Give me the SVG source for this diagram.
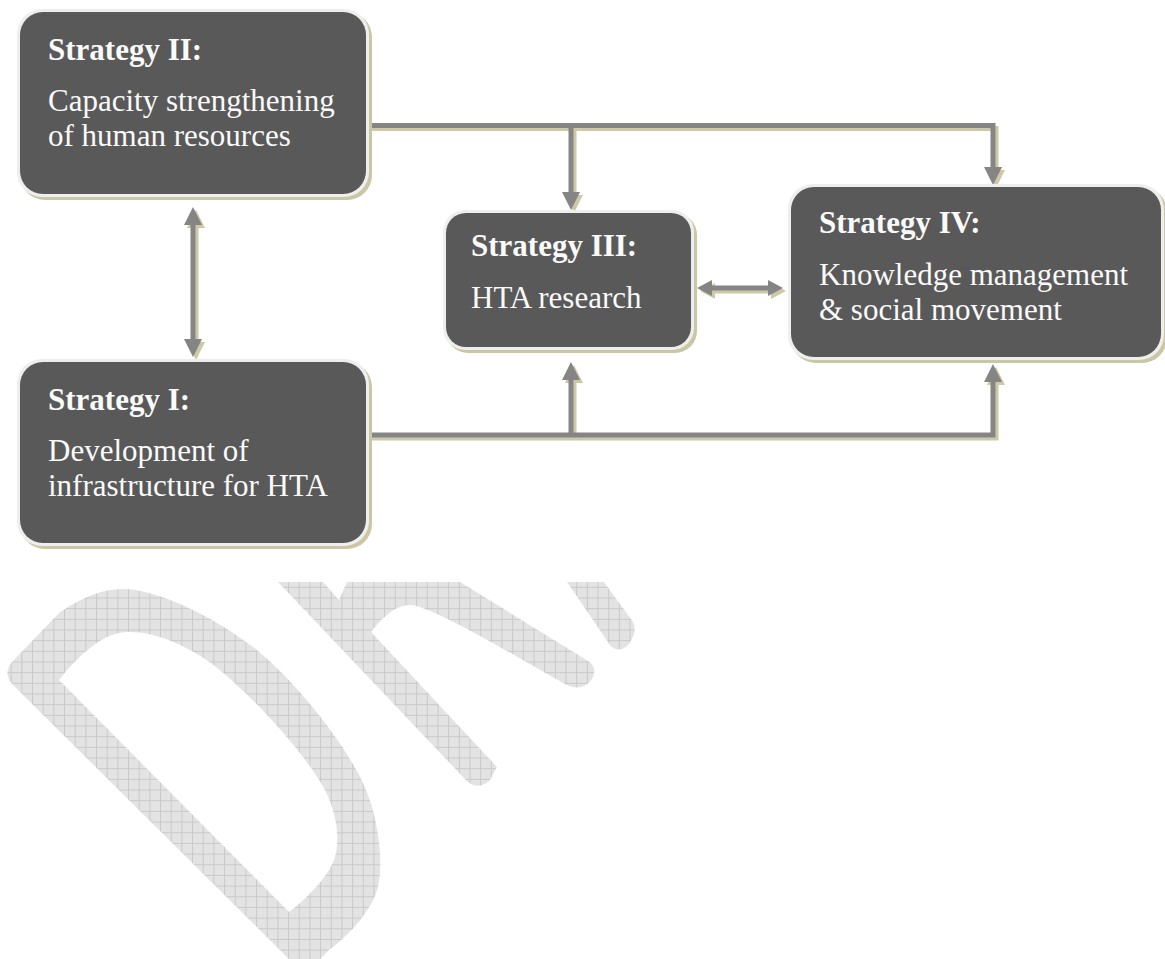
<svg xmlns="http://www.w3.org/2000/svg" xmlns:xlink="http://www.w3.org/1999/xlink" width="1165" height="959" viewBox="0 0 1165 959">
<style>
.shadow{fill:#cbc6a3}
.edge{fill:#eeeeee}
.box{fill:#595959}
.t{font-family:"Liberation Serif","Times New Roman",serif;font-size:31px;fill:#fafafa}
.b{font-weight:bold}
.conn{fill:#858585;stroke:#858585}
.connsh{fill:#cdc8a6;stroke:#cdc8a6}
.wm{fill:url(#grid)}
</style>
<defs>
<pattern id="grid" patternUnits="userSpaceOnUse" width="10.67" height="10.67">
<rect width="10.67" height="10.67" fill="#e3e3e3"/>
<path d="M0 0.5H10.67M0.5 0V10.67" stroke="#c9c9c9" stroke-width="1" fill="none"/>
</pattern>
<g id="cshapes">
<path d="M366 125.5H993V168M571 125.5V193M366 435H993V381M571 435V379M193 225V339M711 288H769" fill="none" stroke-width="5"/>
<polygon points="984,167 1002,167 993,185" stroke="none"/>
<polygon points="562,192 580,192 571,210" stroke="none"/>
<polygon points="984,382 1002,382 993,364" stroke="none"/>
<polygon points="562,380 580,380 571,362" stroke="none"/>
<polygon points="184,225 202,225 193,207" stroke="none"/>
<polygon points="184,339 202,339 193,357" stroke="none"/>
<polygon points="712,280 712,296 697,288" stroke="none"/>
<polygon points="768,280 768,296 783,288" stroke="none"/>
</g>
</defs>
<rect width="1165" height="959" fill="#ffffff"/>
<g id="watermark">
<path class="wm" fill-rule="evenodd" d="M14 686Q2 674 12 662L59 613C85 595 110 586 135 590C170 596 215 618 253 647C290 676 340 735 363 783C378 815 384 860 378 887C372 910 350 935 329 950L305 975Z M59 680C75 660 100 633 127 632C155 631 185 645 211 663C240 685 295 740 321 783C335 806 341 835 335 857C329 877 305 900 289 912Z"/>
<path class="wm" d="M278 582L463 777Q476 793 490 780L497 767L371 632C385 614 398 604 412 605C440 610 525 662 565 684Q582 693 592 679Q598 667 588 661L460 582L347 582L339 600L323 582Z"/>
<path class="wm" d="M567 582L610 645Q618 654 628 645Q638 632 633 622L604 582Z"/>
</g>
<g id="connectors">
<use xlink:href="#cshapes" href="#cshapes" class="connsh" transform="translate(3,3)"/>
<use xlink:href="#cshapes" href="#cshapes" class="conn"/>
</g>
<g id="strategy2">
<rect class="shadow" x="20" y="12" width="352" height="188" rx="25"/>
<rect class="edge" x="17" y="9" width="352" height="188" rx="25"/>
<rect class="box" x="20" y="12" width="346" height="182" rx="23"/>
<text class="t b" x="48" y="60">Strategy II:</text>
<text class="t" x="48" y="111">Capacity strengthening</text>
<text class="t" x="48" y="146">of human resources</text>
</g>
<g id="strategy1">
<rect class="shadow" x="20" y="362" width="352" height="187" rx="25"/>
<rect class="edge" x="17" y="359" width="352" height="187" rx="25"/>
<rect class="box" x="20" y="362" width="346" height="181" rx="23"/>
<text class="t b" x="48" y="410">Strategy I:</text>
<text class="t" x="48" y="461">Development of</text>
<text class="t" x="48" y="496">infrastructure for HTA</text>
</g>
<g id="strategy3">
<rect class="shadow" x="446" y="213" width="251" height="140" rx="22"/>
<rect class="edge" x="443" y="210" width="251" height="140" rx="22"/>
<rect class="box" x="446" y="213" width="245" height="134" rx="20"/>
<text class="t b" x="471" y="256">Strategy III:</text>
<text class="t" x="471" y="308">HTA research</text>
</g>
<g id="strategy4">
<rect class="shadow" x="791" y="187" width="376" height="176" rx="25"/>
<rect class="edge" x="788" y="184" width="376" height="176" rx="25"/>
<rect class="box" x="791" y="187" width="370" height="170" rx="23"/>
<text class="t b" x="819" y="233">Strategy IV:</text>
<text class="t" x="819" y="285">Knowledge management</text>
<text class="t" x="819" y="320">&amp; social movement</text>
</g>
</svg>
